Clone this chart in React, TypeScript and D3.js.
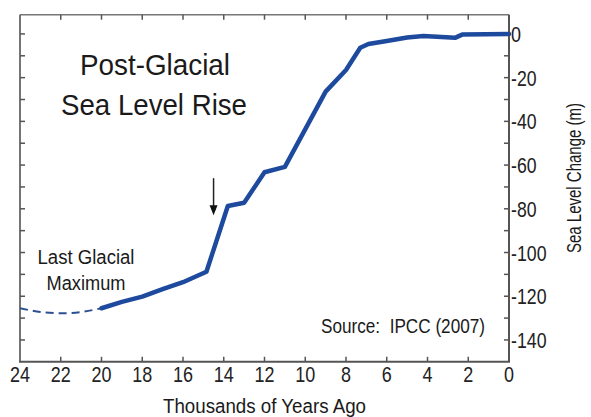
import React, { useRef, useEffect } from "react";
import * as d3 from "d3";

// thousands of years ago / sea level change (m)
const dashedAges = [24, 23, 22, 21, 20];
const dashedLevels = [-125.5, -127.2, -127.8, -127.2, -125.5];

const solidAges = [20, 19, 18, 17, 16, 14.85, 13.8, 13, 12, 11, 9, 8, 7.3, 6.9, 6, 5, 4.2, 2.65, 2.3, 0];
const solidLevels = [-125.5, -122.6, -120.2, -116.8, -113.6, -108.8, -78.7, -77.2, -63.3, -60.8, -26.4, -16.5, -6.3, -4.6, -3.2, -1.6, -0.9, -1.8, -0.3, 0];

const xTicks = [24, 22, 20, 18, 16, 14, 12, 10, 8, 6, 4, 2, 0];
const yMinorTicks = [0, -10, -20, -30, -40, -50, -60, -70, -80, -90, -100, -110, -120, -130, -140];
const yTickLabels = [0, -20, -40, -60, -80, -100, -120, -140];

const arrowAge = 14.5;
const arrowFrom = -66;
const arrowTo = -83;

const App = () => {
  const svgRef = useRef(null);

  useEffect(() => {
    const svg = d3.select(svgRef.current);
    svg.selectAll("*").remove();

    const left = 20;
    const right = 509;
    const top = 14.7;
    const bottom = 361.8;

    const x = d3.scaleLinear().domain([24, 0]).range([left, right]);
    const y = d3.scaleLinear().domain([-150, 8.8]).range([bottom, top]);

    const font = "'Liberation Sans', Arial, Helvetica, sans-serif";
    const blue = "#1e4a9e";

    svg.append("rect").attr("width", 591).attr("height", 417).attr("fill", "white");

    // frame: top and left lighter
    svg.append("line").attr("x1", left).attr("x2", right).attr("y1", top).attr("y2", top)
      .attr("stroke", "#777").attr("stroke-width", 1.5);
    svg.append("line").attr("x1", left).attr("x2", left).attr("y1", top).attr("y2", bottom)
      .attr("stroke", "#666").attr("stroke-width", 1.8);
    svg.append("line").attr("x1", left - 1).attr("x2", right + 1).attr("y1", bottom).attr("y2", bottom)
      .attr("stroke", "#555").attr("stroke-width", 2);
    svg.append("line").attr("x1", right).attr("x2", right).attr("y1", top).attr("y2", bottom)
      .attr("stroke", "#555").attr("stroke-width", 2);

    // x ticks (inward, top and bottom)
    xTicks.forEach((t) => {
      if (t === 24 || t === 0) return;
      svg.append("line").attr("x1", x(t)).attr("x2", x(t)).attr("y1", top).attr("y2", top + 5)
        .attr("stroke", "#555").attr("stroke-width", 1.5);
      svg.append("line").attr("x1", x(t)).attr("x2", x(t)).attr("y1", bottom).attr("y2", bottom - 5)
        .attr("stroke", "#555").attr("stroke-width", 1.5);
    });

    // y ticks (inward, left and right)
    yMinorTicks.forEach((t) => {
      svg.append("line").attr("x1", left).attr("x2", left + 5).attr("y1", y(t)).attr("y2", y(t))
        .attr("stroke", "#555").attr("stroke-width", 1.5);
      svg.append("line").attr("x1", right).attr("x2", right - 5).attr("y1", y(t)).attr("y2", y(t))
        .attr("stroke", "#555").attr("stroke-width", 1.5);
    });

    const labelWidth = (s) => s.replace("-", "").length * 10 + (s.startsWith("-") ? 5.5 : 0);

    // x tick labels
    svg.append("g").selectAll("text").data(xTicks).enter().append("text")
      .attr("x", (d) => x(d))
      .attr("y", 382)
      .attr("text-anchor", "middle")
      .attr("font-family", font)
      .attr("font-size", 22)
      .attr("textLength", (d) => labelWidth(String(d)))
      .attr("lengthAdjust", "spacingAndGlyphs")
      .attr("fill", "#222")
      .text((d) => d);

    // y tick labels
    svg.append("g").selectAll("text").data(yTickLabels).enter().append("text")
      .attr("x", right + 2)
      .attr("y", (d) => y(d) + 8)
      .attr("font-family", font)
      .attr("font-size", 22)
      .attr("textLength", (d) => labelWidth(d < 0 ? "-" + Math.abs(d) : String(d)))
      .attr("lengthAdjust", "spacingAndGlyphs")
      .attr("fill", "#222")
      .text((d) => (d < 0 ? "-" + Math.abs(d) : d));

    // series
    const line = d3.line().x((d) => x(d[0])).y((d) => y(d[1]));

    svg.append("path")
      .datum(dashedAges.map((a, i) => [a, dashedLevels[i]]))
      .attr("d", line.curve(d3.curveMonotoneX))
      .attr("fill", "none")
      .attr("stroke", "#2d4f92")
      .attr("stroke-width", 2)
      .attr("stroke-dasharray", "8,5");

    svg.append("path")
      .datum(solidAges.map((a, i) => [a, solidLevels[i]]))
      .attr("d", d3.line().x((d) => x(d[0])).y((d) => y(d[1])))
      .attr("fill", "none")
      .attr("stroke", blue)
      .attr("stroke-width", 4.5)
      .attr("stroke-linejoin", "round")
      .attr("stroke-linecap", "round");

    // arrow
    svg.append("line")
      .attr("x1", x(arrowAge)).attr("x2", x(arrowAge))
      .attr("y1", y(arrowFrom)).attr("y2", y(arrowTo) - 8)
      .attr("stroke", "#222").attr("stroke-width", 1.5);
    const ax = x(arrowAge);
    const ay = y(arrowTo);
    svg.append("path")
      .attr("d", `M${ax - 4},${ay - 10} L${ax + 4},${ay - 10} L${ax},${ay} Z`)
      .attr("fill", "#111");

    // annotations
    const addText = (txt, tx, ty, size, len, anchor) =>
      svg.append("text")
        .attr("x", tx)
        .attr("y", ty)
        .attr("text-anchor", anchor)
        .attr("font-family", font)
        .attr("font-size", size)
        .attr("textLength", len)
        .attr("lengthAdjust", "spacingAndGlyphs")
        .attr("fill", "#1a1a1a")
        .style("white-space", "pre")
        .text(txt);

    addText("Post-Glacial", 155, 75, 30, 150, "middle");
    addText("Sea Level Rise", 154, 115, 30, 186, "middle");
    addText("Last Glacial", 86, 264, 20, 97, "middle");
    addText("Maximum", 86, 290, 20, 79, "middle");
    addText("Source:  IPCC (2007)", 321, 333, 20, 164, "start");
    addText("Thousands of Years Ago", 264.5, 413, 20, 203, "middle");

    svg.append("text")
      .attr("transform", "translate(581, 178) rotate(-90)")
      .attr("text-anchor", "middle")
      .attr("font-family", font)
      .attr("font-size", 21)
      .attr("textLength", 150)
      .attr("lengthAdjust", "spacingAndGlyphs")
      .attr("fill", "#1a1a1a")
      .text("Sea Level Change (m)");
  }, []);

  return (
    <svg
      ref={svgRef}
      width={591}
      height={417}
      style={{ position: "absolute", left: 0, top: 0 }}
    ></svg>
  );
};

export default App;
